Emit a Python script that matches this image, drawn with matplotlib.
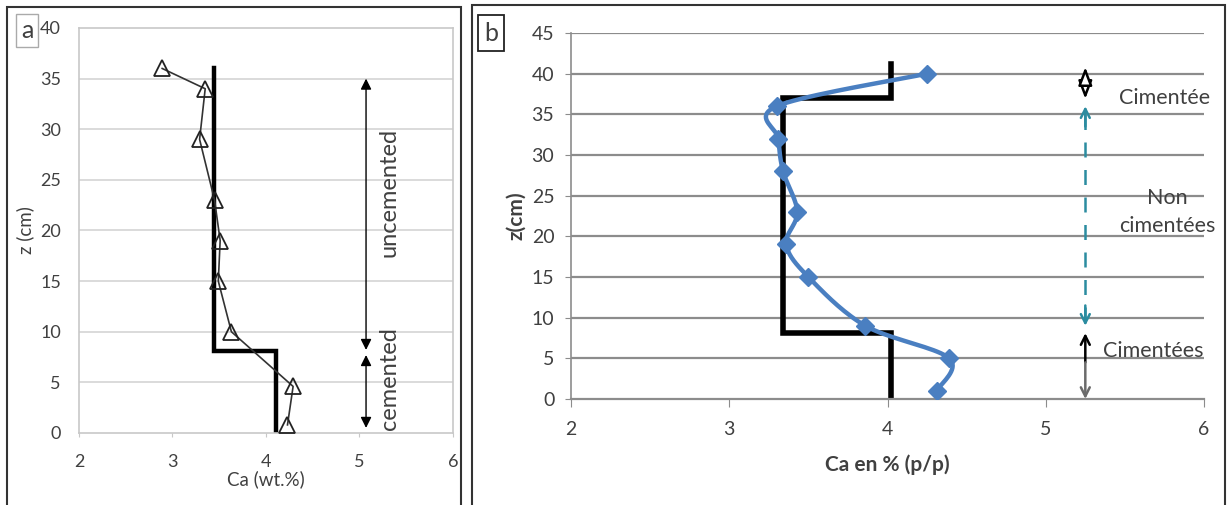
import numpy as np
import matplotlib
matplotlib.use("Agg")
import matplotlib.pyplot as plt
from matplotlib.patches import Rectangle

plt.rcParams["font.family"] = ["Lato", "DejaVu Sans"]

# panel a : Ca (wt.%) vs depth, open triangles
a_z = [36, 34, 29, 23, 19, 15, 10, 4.6, 0.8]
a_ca = [2.89, 3.35, 3.29, 3.45, 3.51, 3.49, 3.63, 4.29, 4.23]
a_step_z = [36, 8.1, 8.1, 0]
a_step_ca = [3.44, 3.44, 4.11, 4.11]

# panel b : Ca en % (p/p), blue diamonds
b_z = [40, 36, 32, 28, 23, 19, 15, 9, 5, 1]
b_ca = [4.25, 3.30, 3.31, 3.34, 3.43, 3.36, 3.50, 3.86, 4.39, 4.31]
b_step_z = [41.2, 37, 37, 8.1, 8.1, 0]
b_step_ca = [4.02, 4.02, 3.34, 3.34, 4.02, 4.02]

BLUE = "#4a7fc1"
TEAL = "#2b8ca0"
GREY_TXT = "#404040"


def smooth(x, y, n=20):
    # catmull-rom through the points, like the excel "smoothed line"
    P = np.column_stack([x, y]).astype(float)
    P = np.vstack([P[0], P, P[-1]])
    out = []
    for i in range(1, len(P) - 2):
        p0, p1, p2, p3 = P[i - 1], P[i], P[i + 1], P[i + 2]
        t = np.linspace(0, 1, n)[:, None]
        pts = 0.5 * ((2 * p1) + (-p0 + p2) * t + (2 * p0 - 5 * p1 + 4 * p2 - p3) * t ** 2
                     + (-p0 + 3 * p1 - 3 * p2 + p3) * t ** 3)
        out.append(pts)
    out = np.vstack(out)
    return out[:, 0], out[:, 1]


fig = plt.figure(figsize=(12.28, 5.05), dpi=100)

# ---------- panel a ----------
ax = fig.add_axes([0.0643, 0.1426, 0.3046, 0.802])
ax.set_xlim(2, 6); ax.set_ylim(0, 40)
ax.set_xticks(range(2, 7)); ax.set_yticks(range(0, 41, 5))
for y in range(5, 40, 5):
    ax.axhline(y, color="#d4d4d4", lw=1.2, zorder=0)
for s in ax.spines.values():
    s.set_color("#c8c8c8"); s.set_linewidth(1.2)
ax.tick_params(axis="x", length=3, color="#c8c8c8", pad=12, labelsize=13, labelcolor=GREY_TXT)
ax.tick_params(axis="y", length=0, pad=13, labelsize=13, labelcolor=GREY_TXT)
ax.plot(a_step_ca, a_step_z, color="black", lw=3.2, solid_joinstyle="miter", zorder=2)
ax.plot(a_ca, a_z, "-", color="#333333", lw=1.2, marker="^", ms=12, mfc="none",
        mec="#222222", mew=1.3, zorder=3)
arr = dict(arrowstyle="<|-|>", color="black", lw=1, mutation_scale=16, shrinkA=0, shrinkB=0)
ax.annotate("", xy=(5.07, 35), xytext=(5.07, 8.2), arrowprops=arr)
ax.annotate("", xy=(5.07, 7.7), xytext=(5.07, 0.5), arrowprops=arr)
ax.text(5.32, 23.8, "uncemented", rotation=90, ha="center", va="center", fontsize=17, color=GREY_TXT)
ax.text(5.32, 5.4, "cemented", rotation=90, ha="center", va="center", fontsize=17, color=GREY_TXT)
ax.set_xlabel("Ca (wt.%)", fontsize=13.5, color=GREY_TXT, labelpad=0)
ax.set_ylabel("z (cm)", fontsize=13.5, color=GREY_TXT, labelpad=4)

# ---------- panel b ----------
bx = fig.add_axes([571 / 1228, 0.2099, 633 / 1228, 0.7248])
bx.set_xlim(2, 6); bx.set_ylim(0, 45)
bx.set_xticks(range(2, 7)); bx.set_yticks(range(0, 46, 5))
for y in range(5, 46, 5):
    bx.axhline(y, color="#8c8c8c", lw=1.6, zorder=0)
bx.spines["top"].set_visible(False); bx.spines["right"].set_visible(False)
bx.spines["left"].set_color("#8c8c8c"); bx.spines["bottom"].set_color("#8c8c8c")
bx.spines["left"].set_linewidth(1.2); bx.spines["bottom"].set_linewidth(1.6)
bx.tick_params(axis="x", direction="out", length=6, color="#8c8c8c", pad=10, labelsize=14, labelcolor=GREY_TXT)
bx.tick_params(axis="y", direction="out", length=4, color="#8c8c8c", pad=8, labelsize=14, labelcolor=GREY_TXT)
bx.plot(b_step_ca, b_step_z, color="black", lw=4, solid_joinstyle="miter", zorder=2)
sx, sy = smooth(b_ca, b_z)
bx.plot(sx, sy, color=BLUE, lw=3.2, zorder=3)
bx.plot(b_ca, b_z, "D", color=BLUE, ms=9, zorder=4)

xa = 5.25
# small diamond-shaped double arrow (two open heads meeting in the middle)
bx.annotate("", xy=(xa, 40.8), xytext=(xa, 36.9),
            arrowprops=dict(arrowstyle="<|-|>,head_length=0.68,head_width=0.26", fc="white", ec="black",
                            lw=1.8, mutation_scale=16, shrinkA=0, shrinkB=0))
bx.plot([xa, xa], [9.5, 35.5], color=TEAL, lw=1.8, dashes=(6, 5), zorder=3)
bx.annotate("", xy=(xa, 36), xytext=(xa, 33.5),
            arrowprops=dict(arrowstyle="->", color=TEAL, lw=1.8, mutation_scale=16, shrinkA=0, shrinkB=0))
bx.annotate("", xy=(xa, 9), xytext=(xa, 11.5),
            arrowprops=dict(arrowstyle="->", color=TEAL, lw=1.8, mutation_scale=16, shrinkA=0, shrinkB=0))
bx.annotate("", xy=(xa, 8.1), xytext=(xa, 4.5),
            arrowprops=dict(arrowstyle="->", color="black", lw=1.8, mutation_scale=16, shrinkA=0, shrinkB=0))
bx.annotate("", xy=(xa, 0), xytext=(xa, 4.5),
            arrowprops=dict(arrowstyle="->", color="#6b6b6b", lw=1.8, mutation_scale=16, shrinkA=0, shrinkB=0))
bx.text(5.75, 37.0, "Cimentée", ha="center", va="center", fontsize=15.5, color=GREY_TXT, clip_on=False)
bx.text(5.77, 23.0, "Non\ncimentées", ha="center", va="center", fontsize=15.5, color=GREY_TXT,
        linespacing=1.45, clip_on=False)
bx.text(5.68, 5.9, "Cimentées", ha="center", va="center", fontsize=15.5, color=GREY_TXT, clip_on=False)
bx.set_xlabel("Ca en % (p/p)", fontsize=15, fontweight="bold", color=GREY_TXT, labelpad=12)
bx.set_ylabel("z(cm)", fontsize=15, fontweight="bold", color=GREY_TXT, labelpad=4)

# panel frames and letters
fig.patches.append(Rectangle((7 / 1228, -0.05), 454 / 1228, 1.05 - 7 / 505, transform=fig.transFigure,
                             fill=False, ec="#333333", lw=1.5))
fig.patches.append(Rectangle((472 / 1228, -0.05), 753 / 1228, 1.05 - 5 / 505, transform=fig.transFigure,
                             fill=False, ec="#333333", lw=1.5))
fig.text(27 / 1228, 1 - 30 / 505, "a", fontsize=18, color=GREY_TXT, ha="center", va="center",
         bbox=dict(boxstyle="square,pad=0.2", fc="white", ec="#aaaaaa", lw=1))
fig.text(491 / 1228, 1 - 33 / 505, "b", fontsize=18, color=GREY_TXT, ha="center", va="center",
         bbox=dict(boxstyle="square,pad=0.25", fc="white", ec="#222222", lw=1.3))

fig.savefig("out.png", dpi=100)
plt.close(fig)
